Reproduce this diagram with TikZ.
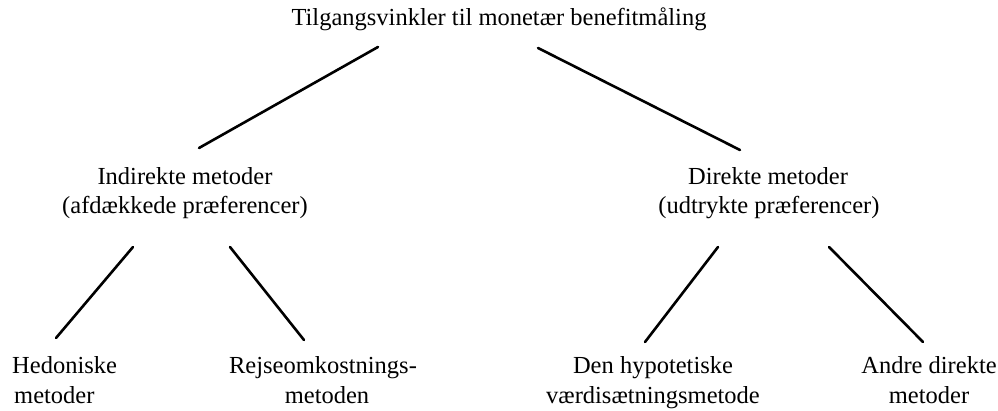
\documentclass[tikz,border=0pt]{standalone}
\usepackage{fontspec}
\setmainfont{Liberation Serif}
\begin{document}
\begin{tikzpicture}[x=1pt,y=-1pt,
  lbl/.style={inner sep=0pt,anchor=base,font=\fontsize{24.5}{29}\selectfont},
  lblw/.style={lbl,anchor=base west},
  link/.style={line width=2.6pt,line cap=round,black}]
\useasboundingbox[fill=white] (0,0) rectangle (998,411);
% texts
\node[lbl] (root) at (499,26) {Tilgangsvinkler til monetær benefitmåling};
\node[lbl] (ind1) at (185,185) {Indirekte metoder};
\node[lbl] (ind2) at (185,214) {(afdækkede præferencer)};
\node[lbl] (dir1) at (768,185) {Direkte metoder};
\node[lbl] (dir2) at (769,214) {(udtrykte præferencer)};
\node[lblw] (hed1) at (12,373) {Hedoniske};
\node[lblw] (hed2) at (14,403) {metoder};
\node[lbl] (rej1) at (323,373) {Rejseomkostnings-};
\node[lbl] (rej2) at (327,403) {metoden};
\node[lbl] (hyp1) at (653,373) {Den hypotetiske};
\node[lbl] (hyp2) at (653,403) {værdisætningsmetode};
\node[lbl] (and1) at (929,373) {Andre direkte};
\node[lbl] (and2) at (929,403) {metoder};
% connector end points
\coordinate (r-l) at (378,47);   \coordinate (i-t) at (199,148);
\coordinate (r-r) at (538,48);   \coordinate (d-t) at (740,150);
\coordinate (i-l) at (133,247);  \coordinate (h-t) at (56,338);
\coordinate (i-r) at (230,247);  \coordinate (j-t) at (304,340);
\coordinate (d-l) at (718,247);  \coordinate (y-t) at (645,342);
\coordinate (d-r) at (829,247);  \coordinate (a-t) at (923,342);
\draw[link] (r-l) -- (i-t);
\draw[link] (r-r) -- (d-t);
\draw[link] (i-l) -- (h-t);
\draw[link] (i-r) -- (j-t);
\draw[link] (d-l) -- (y-t);
\draw[link] (d-r) -- (a-t);
\end{tikzpicture}
\end{document}
